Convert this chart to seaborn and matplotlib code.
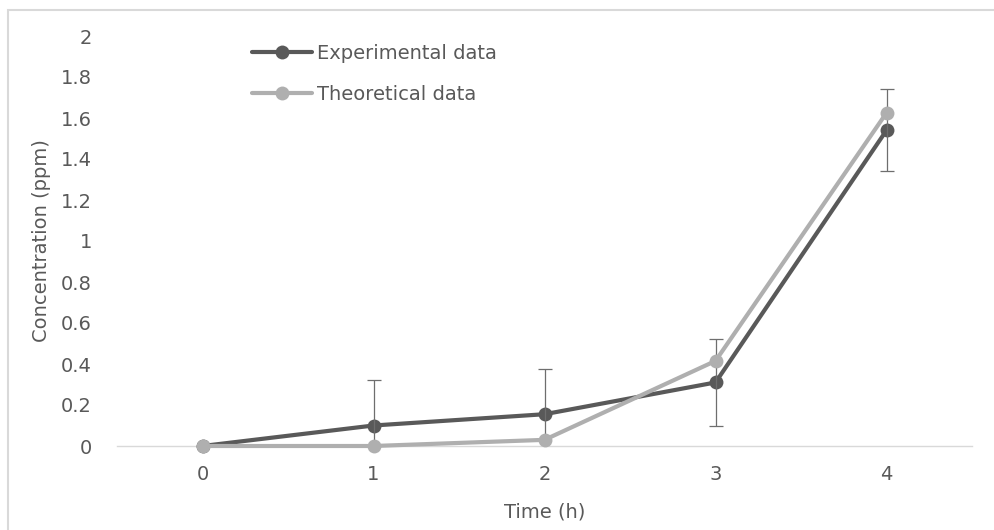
import matplotlib
matplotlib.use("Agg")
import matplotlib.pyplot as plt
from matplotlib.patches import Rectangle
import seaborn as sns
import pandas as pd

# Sampling times (h) and measured / modelled concentrations (ppm)
time_h = [0, 1, 2, 3, 4]
experimental = [0.0, 0.10, 0.155, 0.31, 1.54]
experimental_err = [0.0, 0.22, 0.22, 0.21, 0.20]
theoretical = [0.0, 0.0, 0.03, 0.415, 1.625]
series_names = ["Experimental data", "Theoretical data"]
y_ticks = [0, 0.2, 0.4, 0.6, 0.8, 1, 1.2, 1.4, 1.6, 1.8, 2]
y_tick_labels = ["0", "0.2", "0.4", "0.6", "0.8", "1", "1.2", "1.4", "1.6", "1.8", "2"]

sns.set_theme(style="white")
plt.rcParams["font.family"] = ["DejaVu Sans"]

TEXT = "#595959"
DARK = "#595959"
LIGHT = "#afafaf"
FS = 14

fig = plt.figure(figsize=(9.95, 5.3), dpi=100)
ax = fig.add_axes([117 / 995, 1 - 446 / 530, (972 - 117) / 995, (446 - 36) / 530])

exp_df = pd.DataFrame({"time": time_h, "conc": experimental})
theo_df = pd.DataFrame({"time": time_h, "conc": theoretical})

sns.lineplot(data=exp_df, x="time", y="conc", ax=ax, color=DARK, linewidth=3.0,
             marker="o", markersize=10, markeredgewidth=0, label=series_names[0],
             clip_on=False, zorder=3)
ax.errorbar(time_h[1:], experimental[1:], yerr=experimental_err[1:], fmt="none",
            ecolor="#6e6e6e", elinewidth=0.9, capsize=4.8, capthick=0.9, zorder=3.5)
sns.lineplot(data=theo_df, x="time", y="conc", ax=ax, color=LIGHT, linewidth=3.0,
             marker="o", markersize=10, markeredgewidth=0, label=series_names[1],
             clip_on=False, zorder=4)

ax.set_xlim(-0.5, 4.5)
ax.set_ylim(0, 2)
ax.set_xticks(time_h)
ax.set_xticklabels([str(t) for t in time_h])
ax.set_yticks(y_ticks)
ax.set_yticklabels(y_tick_labels)
ax.tick_params(axis="both", length=0, labelsize=FS, colors=TEXT)
ax.tick_params(axis="x", pad=14)
ax.tick_params(axis="y", pad=18)

for side in ["top", "right", "left"]:
    ax.spines[side].set_visible(False)
ax.spines["bottom"].set_color("#d9d9d9")
ax.spines["bottom"].set_linewidth(1.0)
ax.grid(False)

ax.set_xlabel("Time (h)", fontsize=FS, color=TEXT, labelpad=13)
ax.set_ylabel("Concentration (ppm)", fontsize=FS, color=TEXT, labelpad=7)

leg = ax.legend(loc="upper left", bbox_to_anchor=(252 / 995, 1 - 44 / 530),
                bbox_transform=fig.transFigure, frameon=False, fontsize=FS,
                handlelength=3.1, handletextpad=0.26, labelspacing=1.13,
                borderpad=0, borderaxespad=0)
for t in leg.get_texts():
    t.set_color(TEXT)

# light chart-area border, running off the right and bottom edges
fig.patches.append(Rectangle((8 / 995, -0.1), 2.0, 1.1 - 10 / 530,
                             transform=fig.transFigure, fill=False,
                             edgecolor="#d9d9d9", linewidth=1.5))

fig.savefig("out.png", dpi=100, facecolor="white")
